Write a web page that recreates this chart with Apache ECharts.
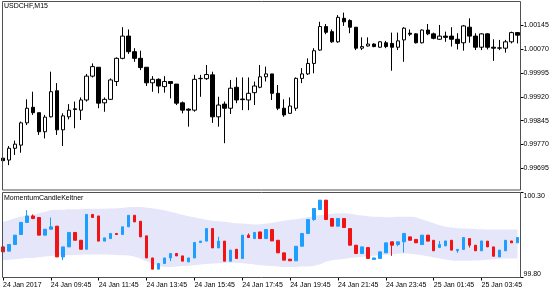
<!DOCTYPE html>
<html><head><meta charset="utf-8">
<script src="https://cdn.jsdelivr.net/npm/echarts@6/dist/echarts.min.js"></script>
<style>html,body{margin:0;padding:0;background:#fff}#c{width:560px;height:294px}</style>
</head><body><div id="c"></div>
<script>
const categories = ["24 Jan 07:45","24 Jan 08:00","24 Jan 08:15","24 Jan 08:30","24 Jan 08:45","24 Jan 09:00","24 Jan 09:15","24 Jan 09:30","24 Jan 09:45","24 Jan 10:00","24 Jan 10:15","24 Jan 10:30","24 Jan 10:45","24 Jan 11:00","24 Jan 11:15","24 Jan 11:30","24 Jan 11:45","24 Jan 12:00","24 Jan 12:15","24 Jan 12:30","24 Jan 12:45","24 Jan 13:00","24 Jan 13:15","24 Jan 13:30","24 Jan 13:45","24 Jan 14:00","24 Jan 14:15","24 Jan 14:30","24 Jan 14:45","24 Jan 15:00","24 Jan 15:15","24 Jan 15:30","24 Jan 15:45","24 Jan 16:00","24 Jan 16:15","24 Jan 16:30","24 Jan 16:45","24 Jan 17:00","24 Jan 17:15","24 Jan 17:30","24 Jan 17:45","24 Jan 18:00","24 Jan 18:15","24 Jan 18:30","24 Jan 18:45","24 Jan 19:00","24 Jan 19:15","24 Jan 19:30","24 Jan 19:45","24 Jan 20:00","24 Jan 20:15","24 Jan 20:30","24 Jan 20:45","24 Jan 21:00","24 Jan 21:15","24 Jan 21:30","24 Jan 21:45","24 Jan 22:00","24 Jan 22:15","24 Jan 22:30","24 Jan 22:45","24 Jan 23:00","24 Jan 23:15","24 Jan 23:30","24 Jan 23:45","25 Jan 00:00","25 Jan 00:15","25 Jan 00:30","25 Jan 00:45","25 Jan 01:00","25 Jan 01:15","25 Jan 01:30","25 Jan 01:45","25 Jan 02:00","25 Jan 02:15","25 Jan 02:30","25 Jan 02:45","25 Jan 03:00","25 Jan 03:15","25 Jan 03:30","25 Jan 03:45","25 Jan 04:00","25 Jan 04:15","25 Jan 04:30","25 Jan 04:45","25 Jan 05:00","25 Jan 05:15"];

const timeTickLabels = ["24 Jan 2017","24 Jan 09:45","24 Jan 11:45","24 Jan 13:45","24 Jan 15:45","24 Jan 17:45","24 Jan 19:45","24 Jan 21:45","24 Jan 23:45","25 Jan 01:45","25 Jan 03:45"];
const priceTicks = ["1.00145","1.00070","0.99995","0.99920","0.99845","0.99770","0.99695"];
const momTicks = ["100.30","99.80"];

const priceOpen  = [0.99727,0.99721,0.99758,0.99768,0.99838,0.99887,0.99870,0.99810,0.99857,0.99939,0.99816,0.99857,0.99882,0.99878,0.99910,0.99985,1.00013,0.99901,0.99912,0.99968,1.00041,1.00111,1.00062,1.00041,1.00013,0.99964,0.99975,0.99952,0.99968,0.99960,0.99901,0.99881,0.99878,0.99977,0.99977,0.99989,0.99857,0.99897,0.99884,0.99950,0.99913,0.99910,0.99933,0.99950,0.99983,0.99992,0.99931,0.99884,0.99868,0.99884,0.99978,0.99992,1.00025,1.00067,1.00141,1.00125,1.00093,1.00167,1.00160,1.00139,1.00073,1.00080,1.00086,1.00076,1.00090,1.00088,1.00076,1.00099,1.00120,1.00118,1.00090,1.00130,1.00118,1.00101,1.00111,1.00111,1.00101,1.00090,1.00139,1.00111,1.00076,1.00118,1.00076,1.00073,1.00073,1.00093,1.00122];
const priceClose = [0.99719,0.99758,0.99771,0.99838,0.99884,0.99870,0.99810,0.99856,0.99936,0.99816,0.99860,0.99878,0.99880,0.99910,0.99985,1.00015,0.99900,0.99912,0.99973,1.00041,1.00111,1.00062,1.00041,1.00012,0.99964,0.99975,0.99954,0.99968,0.99962,0.99900,0.99878,0.99878,0.99975,0.99978,0.99990,0.99857,0.99894,0.99884,0.99947,0.99910,0.99911,0.99931,0.99954,0.99983,0.99992,0.99931,0.99884,0.99863,0.99891,0.99978,0.99992,1.00025,1.00065,1.00141,1.00123,1.00093,1.00170,1.00156,1.00139,1.00073,1.00078,1.00086,1.00078,1.00093,1.00078,1.00076,1.00096,1.00136,1.00117,1.00090,1.00130,1.00118,1.00104,1.00111,1.00107,1.00101,1.00088,1.00143,1.00111,1.00076,1.00118,1.00076,1.00073,1.00074,1.00093,1.00122,1.00114];
const priceLow   = [0.99712,0.99705,0.99737,0.99744,0.99831,0.99863,0.99800,0.99789,0.99855,0.99800,0.99765,0.99849,0.99821,0.99847,0.99905,0.99981,0.99884,0.99873,0.99910,0.99954,1.00038,1.00055,1.00030,1.00004,0.99954,0.99936,0.99931,0.99933,0.99915,0.99894,0.99868,0.99826,0.99873,0.99920,0.99973,0.99838,0.99826,0.99774,0.99866,0.99900,0.99878,0.99878,0.99894,0.99947,0.99968,0.99910,0.99878,0.99857,0.99866,0.99876,0.99963,0.99989,0.99994,1.00065,1.00117,1.00090,1.00090,1.00143,1.00120,1.00067,1.00067,1.00078,1.00076,1.00075,1.00073,1.00002,1.00067,1.00030,1.00111,1.00088,1.00088,1.00114,1.00101,1.00099,1.00093,1.00078,1.00069,1.00065,1.00090,1.00067,1.00067,1.00069,1.00033,1.00067,1.00059,1.00088,1.00088];
const priceHigh  = [0.99731,0.99765,0.99782,0.99842,0.99912,0.99936,0.99870,0.99863,0.99999,0.99963,0.99868,0.99897,0.99905,0.99918,0.99992,1.00025,1.00013,0.99918,0.99978,1.00044,1.00139,1.00132,1.00073,1.00065,1.00013,0.99985,0.99978,0.99985,0.99968,0.99960,0.99905,0.99884,0.99989,0.99989,1.00020,0.99999,0.99920,0.99905,0.99973,0.99981,0.99981,0.99981,0.99968,1.00020,1.00015,0.99992,0.99957,0.99912,0.99918,0.99981,1.00010,1.00041,1.00073,1.00156,1.00149,1.00132,1.00177,1.00185,1.00164,1.00139,1.00107,1.00107,1.00088,1.00095,1.00096,1.00122,1.00122,1.00139,1.00132,1.00120,1.00132,1.00149,1.00122,1.00146,1.00125,1.00139,1.00120,1.00146,1.00167,1.00120,1.00120,1.00120,1.00101,1.00099,1.00099,1.00125,1.00122];

const momOpen  = [99.980,99.955,99.994,100.053,100.124,100.162,100.153,100.049,100.084,100.102,99.921,99.980,100.065,100.019,99.966,100.171,100.162,100.014,100.029,100.059,100.053,100.098,100.166,100.131,100.045,99.915,99.849,99.882,99.915,99.941,99.927,99.892,99.915,100.006,100.014,100.088,99.974,100.014,99.896,99.966,99.912,100.049,100.029,100.068,100.029,100.082,100.019,99.945,99.908,99.898,99.984,100.059,100.141,100.200,100.255,100.147,100.102,100.147,100.088,99.990,99.941,99.976,99.906,99.912,99.945,100.010,99.994,100.010,100.039,100.024,99.994,100.049,100.019,99.976,99.986,100.019,99.957,99.965,100.029,99.990,99.957,100.014,99.980,99.921,99.957,100.015,100.004];
const momClose = [99.951,99.994,100.049,100.124,100.162,100.147,100.049,100.084,100.098,99.921,99.980,100.065,100.019,99.966,100.171,100.153,100.014,100.033,100.059,100.053,100.098,100.166,100.127,100.039,99.915,99.849,99.882,99.915,99.941,99.927,99.896,99.915,100.006,100.014,100.088,99.974,100.014,99.896,99.961,99.912,100.049,100.035,100.065,100.029,100.082,100.015,99.945,99.902,99.898,99.984,100.059,100.141,100.206,100.255,100.141,100.102,100.147,100.094,99.990,99.941,99.980,99.912,99.915,99.951,100.004,99.990,100.010,100.059,100.019,100.004,100.049,100.014,99.957,99.994,100.015,99.961,99.965,100.035,99.990,99.957,100.015,99.980,99.925,99.961,100.019,100.004,100.035];
const momLow   = [99.951,99.955,99.994,100.053,100.124,100.143,100.049,100.049,100.084,99.921,99.902,99.980,100.019,99.966,99.966,100.153,100.014,100.014,100.029,100.053,100.053,100.098,100.127,100.039,99.915,99.849,99.849,99.882,99.896,99.927,99.896,99.892,99.915,100.006,100.014,99.974,99.974,99.896,99.896,99.912,99.912,100.035,100.029,100.029,100.029,100.015,99.945,99.902,99.898,99.898,99.984,100.059,100.133,100.200,100.141,100.102,100.102,100.094,99.990,99.941,99.941,99.912,99.906,99.912,99.945,99.927,99.984,99.947,100.019,100.004,99.994,100.014,99.957,99.976,99.986,99.961,99.945,99.965,99.976,99.957,99.957,99.980,99.925,99.921,99.957,100.004,100.004];
const momHigh  = [99.980,99.994,100.049,100.124,100.196,100.171,100.153,100.084,100.153,100.102,99.980,100.065,100.065,100.019,100.171,100.171,100.162,100.033,100.059,100.059,100.098,100.166,100.166,100.131,100.045,99.915,99.882,99.915,99.941,99.941,99.927,99.915,100.006,100.014,100.088,100.088,100.039,100.014,99.961,99.966,100.049,100.059,100.065,100.068,100.082,100.082,100.019,99.945,99.908,99.984,100.059,100.141,100.206,100.255,100.255,100.147,100.147,100.147,100.088,99.990,99.980,99.976,99.915,99.951,100.004,100.010,100.010,100.059,100.039,100.024,100.049,100.049,100.019,100.015,100.015,100.019,99.965,100.035,100.029,99.990,100.015,100.014,99.980,99.961,100.019,100.015,100.035];

const kcUpper = [100.127,100.137,100.149,100.158,100.164,100.169,100.178,100.187,100.196,100.199,100.199,100.202,100.202,100.202,100.205,100.205,100.205,100.205,100.206,100.208,100.209,100.214,100.215,100.214,100.211,100.208,100.202,100.196,100.187,100.178,100.169,100.161,100.155,100.147,100.140,100.134,100.131,100.128,100.124,100.119,100.117,100.114,100.112,100.113,100.117,100.122,100.128,100.134,100.140,100.143,100.149,100.155,100.161,100.167,100.172,100.175,100.178,100.178,100.175,100.169,100.164,100.161,100.158,100.157,100.155,100.155,100.157,100.158,100.158,100.155,100.143,100.131,100.119,100.108,100.099,100.094,100.090,100.088,100.087,100.086,100.084,100.082,100.082,100.082,100.082,100.082,100.082];
const kcLower = [99.902,99.905,99.908,99.911,99.914,99.915,99.919,99.924,99.927,99.929,99.931,99.931,99.933,99.934,99.935,99.935,99.935,99.935,99.934,99.933,99.931,99.929,99.922,99.911,99.896,99.881,99.869,99.862,99.862,99.865,99.867,99.869,99.872,99.877,99.880,99.882,99.884,99.886,99.887,99.887,99.884,99.881,99.877,99.872,99.869,99.867,99.865,99.862,99.862,99.862,99.864,99.865,99.869,99.878,99.893,99.902,99.906,99.909,99.914,99.918,99.921,99.925,99.928,99.931,99.934,99.937,99.940,99.941,99.939,99.935,99.931,99.925,99.918,99.912,99.906,99.900,99.898,99.898,99.899,99.900,99.902,99.905,99.908,99.911,99.912,99.912,99.912];

const FONT = 'Liberation Sans';
const priceData = priceOpen.map((o, i) => [o, priceClose[i], priceLow[i], priceHigh[i]]);
const momData = momOpen.map((o, i) => [o, momClose[i], momLow[i], momHigh[i]]);
const every8 = (i) => i % 8 === 0;

const chart = echarts.init(document.getElementById('c'), null, {renderer: 'canvas'});
chart.setOption({
  animation: false,
  backgroundColor: '#ffffff',
  title: [
    {text: 'USDCHF,M15', left: 4, top: 3, padding: 0,
     textStyle: {fontSize: 7, fontWeight: 'normal', fontFamily: FONT, color: '#000'}},
    {text: 'MomentumCandleKeltner', left: 4, top: 195, padding: 0,
     textStyle: {fontSize: 7, fontWeight: 'normal', fontFamily: FONT, color: '#000'}}
  ],
  grid: [
    {left: -1.5, width: 522, top: 2, height: 188},
    {left: -1.5, width: 522, top: 192.5, height: 85}
  ],
  xAxis: [
    {type: 'category', gridIndex: 0, data: categories, boundaryGap: true, show: false},
    {type: 'category', gridIndex: 1, data: categories, boundaryGap: true,
     axisLine: {show: false},
     axisTick: {show: true, length: 3, alignWithLabel: true, interval: every8, lineStyle: {color: '#000'}},
     axisLabel: {show: true, interval: every8, align: 'left', margin: 4, hideOverlap: false,
       fontSize: 7, fontFamily: FONT, color: '#000',
       formatter: (v, i) => timeTickLabels[Math.floor(i / 8)]}}
  ],
  yAxis: [
    {type: 'value', gridIndex: 0, position: 'right', min: 0.996267, max: 1.002183, scale: true,
     axisLine: {show: false}, splitLine: {show: false},
     axisTick: {show: true, length: 3, customValues: priceTicks.map(Number), lineStyle: {color: '#000'}},
     axisLabel: {show: true, margin: 3, customValues: priceTicks.map(Number), fontSize: 7, fontFamily: FONT, color: '#000',
       formatter: (v) => v.toFixed(5)}},
    {type: 'value', gridIndex: 1, position: 'right', min: 99.80, max: 100.30,
     axisLine: {show: false}, splitLine: {show: false},
     axisTick: {show: true, length: 3, customValues: [Number(momTicks[0])], lineStyle: {color: '#000'}},
     axisLabel: {show: true, margin: 3, verticalAlign: 'top', customValues: [Number(momTicks[0])], fontSize: 7, fontFamily: FONT, color: '#000',
       formatter: () => momTicks[0]}},
    {type: 'value', gridIndex: 1, position: 'right', min: 99.80, max: 100.30,
     axisLine: {show: false}, splitLine: {show: false},
     axisTick: {show: true, length: 3, customValues: [Number(momTicks[1])], lineStyle: {color: '#000'}},
     axisLabel: {show: true, margin: 3, verticalAlign: 'bottom', customValues: [Number(momTicks[1])], fontSize: 7, fontFamily: FONT, color: '#000',
       formatter: () => momTicks[1]}}
  ],
  series: [
    {type: 'candlestick', xAxisIndex: 0, yAxisIndex: 0, data: priceData, barWidth: 4, z: 3,
     itemStyle: {color: '#ffffff', color0: '#000000', borderColor: '#000000', borderColor0: '#000000', borderWidth: 1}},
    {type: 'line', xAxisIndex: 1, yAxisIndex: 1, data: kcUpper, smooth: 0.3, showSymbol: false, z: 1,
     lineStyle: {width: 0, opacity: 0}, areaStyle: {color: '#e6e6fa', opacity: 1, origin: 'start'}},
    {type: 'line', xAxisIndex: 1, yAxisIndex: 1, data: kcLower, smooth: 0.3, showSymbol: false, z: 1,
     lineStyle: {width: 0, opacity: 0}, areaStyle: {color: '#ffffff', opacity: 1, origin: 'start'}},
    {type: 'candlestick', xAxisIndex: 1, yAxisIndex: 1, data: momData, barWidth: 3, z: 3,
     itemStyle: {color: '#1e9fff', color0: '#f01414', borderColor: '#1e9fff', borderColor0: '#f01414', borderWidth: 1}}
  ],
  graphic: [
    {type: 'rect', z: 100, silent: true, shape: {x: 2.5, y: 1.5, width: 518, height: 188.5},
     style: {fill: null, stroke: '#505050', lineWidth: 1}},
    {type: 'rect', z: 100, silent: true, shape: {x: 2.5, y: 192.5, width: 518, height: 85},
     style: {fill: null, stroke: '#505050', lineWidth: 1}}
  ]
});
</script></body></html>
